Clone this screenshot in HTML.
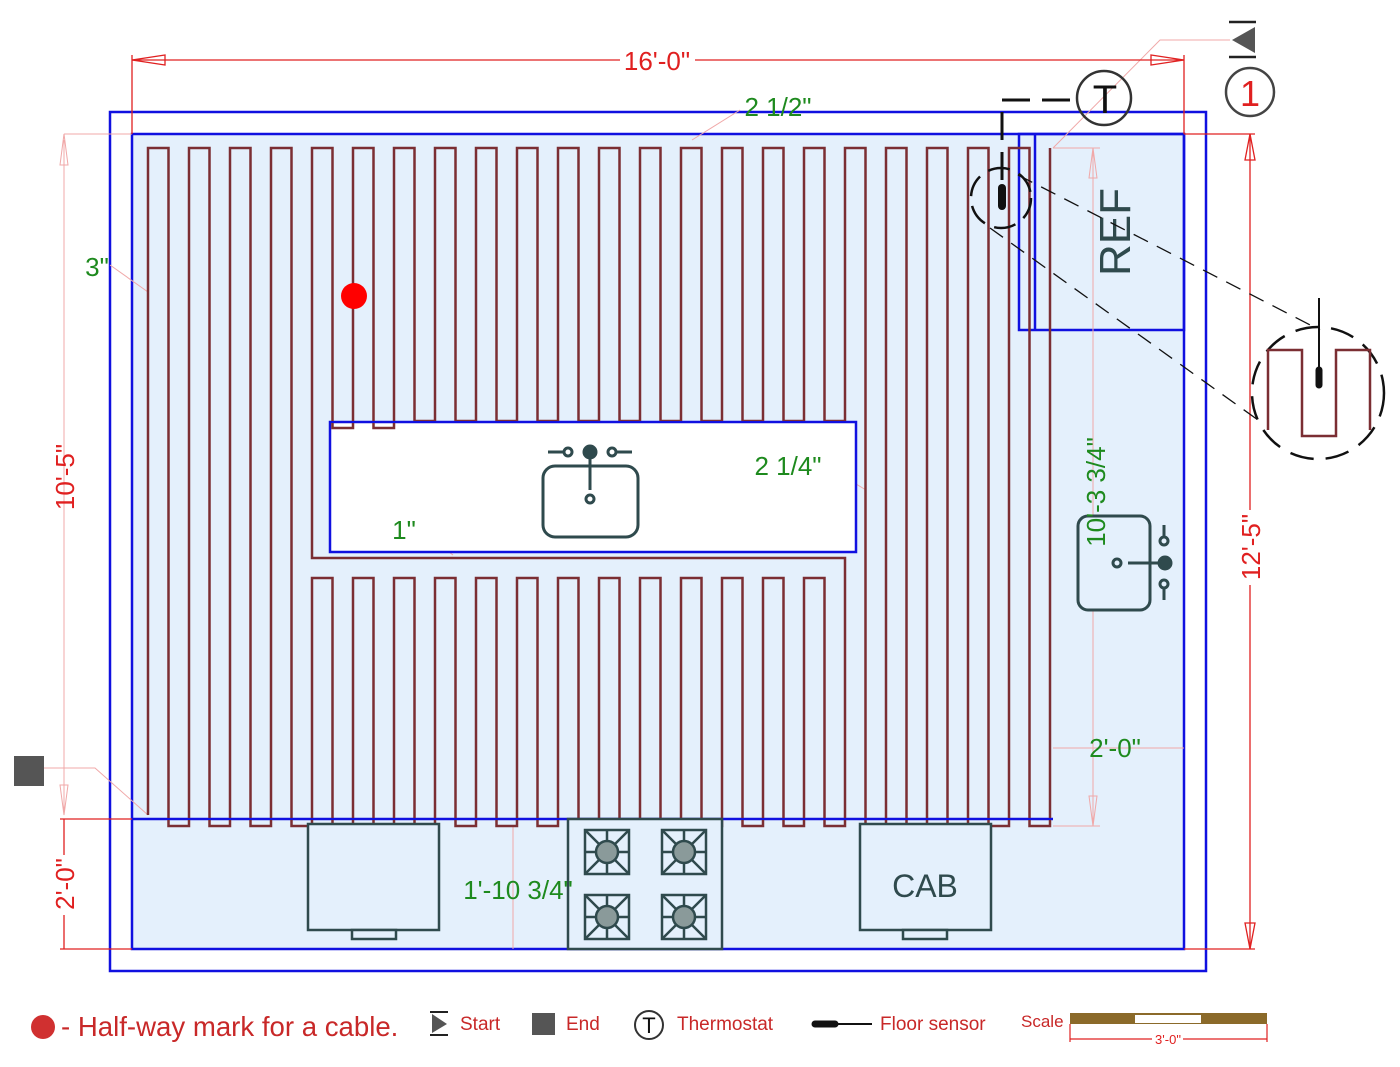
<!DOCTYPE html>
<html><head><meta charset="utf-8"><style>
html,body{margin:0;padding:0;background:#fff;}
svg{display:block;font-family:"Liberation Sans",sans-serif;}
</style></head><body>
<svg width="1400" height="1067" viewBox="0 0 1400 1067" xmlns="http://www.w3.org/2000/svg">
<!-- room -->
<rect x="110" y="112" width="1096" height="859" fill="#fff" stroke="#1010e0" stroke-width="2.5"/>
<rect x="132" y="134" width="1052" height="815" fill="#e4f0fc" stroke="#1010e0" stroke-width="2.5"/>
<!-- ref -->
<rect x="1019" y="134" width="165" height="196" fill="none" stroke="#1010e0" stroke-width="2.5"/>
<line x1="1035" y1="134" x2="1035" y2="330" stroke="#1010e0" stroke-width="2.5"/>
<text x="0" y="0" transform="translate(1130,232) rotate(-90)" text-anchor="middle" font-size="44" fill="#2f4a4d">REF</text>
<!-- counter line -->
<line x1="132" y1="819" x2="1053" y2="819" stroke="#1010e0" stroke-width="2.5"/>
<!-- pink guides -->
<g stroke="#f0a8a8" stroke-width="1" fill="none">
<line x1="64" y1="134" x2="132" y2="134"/>
<line x1="513" y1="826" x2="513" y2="949"/>
<line x1="1053" y1="748" x2="1184" y2="748"/>
<line x1="1093" y1="148" x2="1093" y2="826"/>
<line x1="1053" y1="148" x2="1100" y2="148"/>
<line x1="1053" y1="826" x2="1100" y2="826"/>
<polyline points="1053,148 1160,40 1230,40"/>
<line x1="692" y1="140" x2="740" y2="110"/>
<line x1="110" y1="265" x2="148" y2="292"/>
<line x1="420" y1="530" x2="453" y2="555"/>
<line x1="826" y1="466" x2="866" y2="490"/>
<polyline points="44,768 95,768 148,815"/>
<line x1="64" y1="140" x2="64" y2="815"/>
<polygon points="64,134 60,165 68,165"/>
<polygon points="64,815 60,785 68,785"/>
<polygon points="1093,148 1089,178 1097,178"/>
<polygon points="1093,826 1089,796 1097,796"/>
</g>
<!-- island -->
<rect x="330" y="422" width="526" height="130" fill="#fff" stroke="#1010e0" stroke-width="2.5"/>
<!-- cable -->
<path fill="none" stroke="#7b2e33" stroke-width="2.5" d="M148,815 V148 H168.5 V826 H189 V148 H209.5 V826 H230 V148 H250.5 V826 H271 V148 H291.5 V826 H312 V578 H332.5 V826 H353 V578 H373.5 V826 H394 V578 H414.5 V826 H435 V578 H455.5 V826 H476 V578 H496.5 V826 H517 V578 H537.5 V826 H558 V578 H578.5 V826 H599 V578 H619.5 V826 H640 V578 H660.5 V826 H681 V578 H701.5 V826 H722 V578 H742.5 V826 H763 V578 H783.5 V826 H804 V578 H824.5 V826 H845 V558 H312 V148 H332.5 V428 H353 V148 H373.5 V428 H394 V148 H414.5 V421 H435 V148 H455.5 V421 H476 V148 H496.5 V421 H517 V148 H537.5 V421 H558 V148 H578.5 V421 H599 V148 H619.5 V421 H640 V148 H660.5 V421 H681 V148 H701.5 V421 H722 V148 H742.5 V421 H763 V148 H783.5 V421 H804 V148 H824.5 V421 H845 V148 H865.5 V826 H886 V148 H906.5 V826 H927 V148 H947.5 V826 H968 V148 H988.5 V826 H1009 V148 H1029.5 V826 H1050 V148"/>
<line x1="330" y1="422" x2="856" y2="422" stroke="#1010e0" stroke-width="2"/>
<line x1="132" y1="819" x2="1053" y2="819" stroke="#1010e0" stroke-width="2"/>
<!-- island sink -->
<g stroke="#2f4a4d" stroke-width="3" fill="none">
<rect x="543" y="466" width="95" height="71" rx="12" fill="#fff"/>
<line x1="590" y1="452" x2="590" y2="490"/>
<circle cx="590" cy="452" r="6" fill="#2f4a4d"/>
<circle cx="590" cy="499" r="4"/>
<line x1="548" y1="452" x2="565" y2="452"/><circle cx="568" cy="452" r="4"/>
<line x1="632" y1="452" x2="615" y2="452"/><circle cx="612" cy="452" r="4"/>
</g>
<!-- wall sink -->
<g stroke="#2f4a4d" stroke-width="3" fill="none">
<rect x="1078" y="516" width="72" height="94" rx="10" fill="#e4f0fc"/>
<line x1="1128" y1="563" x2="1165" y2="563"/>
<circle cx="1165" cy="563" r="6" fill="#2f4a4d"/>
<circle cx="1117" cy="563" r="4"/>
<line x1="1164" y1="525" x2="1164" y2="538"/><circle cx="1164" cy="541" r="4"/>
<line x1="1164" y1="600" x2="1164" y2="587"/><circle cx="1164" cy="584" r="4"/>
</g>
<!-- cabinets -->
<g stroke="#2f4a4d" stroke-width="2.5" fill="#e4f0fc">
<rect x="308" y="824" width="131" height="106"/>
<rect x="352" y="930" width="44" height="9"/>
<rect x="860" y="824" width="131" height="106"/>
<rect x="903" y="930" width="44" height="9"/>
<rect x="568" y="819" width="154" height="130"/>
</g>
<text x="925" y="897" text-anchor="middle" font-size="32" fill="#2f4a4d">CAB</text>
<!-- burners -->
<g stroke="#2f4a4d" stroke-width="2.5">
<g transform="translate(607,852)"><rect x="-22" y="-22" width="44" height="44" fill="none"/><path d="M-22,-22L22,22M22,-22L-22,22M0,-22V22M-22,0H22"/><circle r="11" fill="#8a9a9a"/></g>
<g transform="translate(684,852)"><rect x="-22" y="-22" width="44" height="44" fill="none"/><path d="M-22,-22L22,22M22,-22L-22,22M0,-22V22M-22,0H22"/><circle r="11" fill="#8a9a9a"/></g>
<g transform="translate(607,917)"><rect x="-22" y="-22" width="44" height="44" fill="none"/><path d="M-22,-22L22,22M22,-22L-22,22M0,-22V22M-22,0H22"/><circle r="11" fill="#8a9a9a"/></g>
<g transform="translate(684,917)"><rect x="-22" y="-22" width="44" height="44" fill="none"/><path d="M-22,-22L22,22M22,-22L-22,22M0,-22V22M-22,0H22"/><circle r="11" fill="#8a9a9a"/></g>
</g>
<!-- red dims -->
<g stroke="#e02020" stroke-width="1.3" fill="none">
<line x1="132" y1="55" x2="132" y2="134"/>
<line x1="1184" y1="55" x2="1184" y2="134"/>
<line x1="132" y1="60" x2="620" y2="60"/><line x1="695" y1="60" x2="1184" y2="60"/>
<polygon points="132,60 165,55 165,65"/><polygon points="1184,60 1151,55 1151,65"/>
<line x1="60" y1="819" x2="132" y2="819"/><line x1="60" y1="949" x2="132" y2="949"/>
<line x1="64" y1="819" x2="64" y2="855"/><line x1="64" y1="915" x2="64" y2="949"/>
<line x1="1184" y1="134" x2="1255" y2="134"/><line x1="1184" y1="949" x2="1255" y2="949"/>
<line x1="1250" y1="134" x2="1250" y2="510"/><line x1="1250" y1="585" x2="1250" y2="949"/>
<polygon points="1250,134 1245,160 1255,160"/><polygon points="1250,949 1245,923 1255,923"/>
</g>
<g fill="#e02020" font-size="26">
<text x="657" y="70" text-anchor="middle">16'-0"</text>
<text transform="translate(74,477) rotate(-90)" text-anchor="middle">10'-5"</text>
<text transform="translate(74,884) rotate(-90)" text-anchor="middle">2'-0"</text>
<text transform="translate(1260,547) rotate(-90)" text-anchor="middle">12'-5"</text>
</g>
<!-- green labels -->
<g fill="#1e8a1e" font-size="26">
<text x="778" y="116" text-anchor="middle">2 1/2"</text>
<text x="97" y="276" text-anchor="middle">3"</text>
<text x="788" y="475" text-anchor="middle">2 1/4"</text>
<text x="404" y="539" text-anchor="middle">1"</text>
<text transform="translate(1105,492) rotate(-90)" text-anchor="middle">10'-3 3/4"</text>
<text x="1115" y="757" text-anchor="middle">2'-0"</text>
<text x="518" y="899" text-anchor="middle">1'-10 3/4"</text>
</g>
<!-- thermostat & sensor -->
<g stroke="#111" fill="none">
<path d="M1002,100 H1077" stroke-width="3" stroke-dasharray="28,12"/>
<path d="M1002,112 V180" stroke-width="3" stroke-dasharray="28,12"/>
<circle cx="1104" cy="98" r="27" stroke="#333" stroke-width="2.5" fill="none"/>
<circle cx="1001" cy="198" r="30" stroke-width="2.5" stroke-dasharray="22,10"/>
<line x1="1002" y1="188" x2="1002" y2="206" stroke-width="8" stroke-linecap="round"/>
<path d="M1018,175 L1320,330 M990,228 L1258,420" stroke-width="1.3" stroke-dasharray="16,10"/>
<circle cx="1318" cy="393" r="66" stroke-width="2.5" stroke-dasharray="24,12"/>
<path d="M1268,430 V350 H1302 V436 H1336 V350 H1370 V430" stroke="#7b2e33" stroke-width="2.5"/>
<line x1="1319" y1="298" x2="1319" y2="370" stroke-width="2"/>
<line x1="1319" y1="370" x2="1319" y2="385" stroke-width="7" stroke-linecap="round"/>
</g>
<text x="1105" y="113" text-anchor="middle" font-size="40" fill="#111">T</text>
<!-- start marker -->
<line x1="1229" y1="22" x2="1256" y2="22" stroke="#222" stroke-width="2.5"/>
<line x1="1229" y1="57" x2="1256" y2="57" stroke="#222" stroke-width="2.5"/>
<polygon points="1232,40 1255,27 1255,53" fill="#555"/>
<circle cx="1250" cy="92" r="24" fill="none" stroke="#444" stroke-width="2.5"/>
<text x="1250" y="106" text-anchor="middle" font-size="36" fill="#e02020">1</text>
<!-- end marker, half-way dot -->
<rect x="14" y="756" width="30" height="30" fill="#555"/>
<circle cx="354" cy="296" r="13" fill="#f00"/>
<!-- legend -->
<circle cx="43" cy="1027" r="12" fill="#d03030"/>
<text x="61" y="1036" font-size="27.6" fill="#c82828">- Half-way mark for a cable.</text>
<line x1="430" y1="1012" x2="448" y2="1012" stroke="#222" stroke-width="2"/>
<line x1="430" y1="1035" x2="448" y2="1035" stroke="#222" stroke-width="2"/>
<polygon points="432,1014 447,1024 432,1033" fill="#555"/>
<text x="460" y="1030" font-size="19" fill="#c82828">Start</text>
<rect x="532" y="1013" width="23" height="22" fill="#555"/>
<text x="566" y="1030" font-size="19" fill="#c82828">End</text>
<circle cx="649" cy="1025" r="14" fill="none" stroke="#333" stroke-width="2"/>
<text x="649" y="1033" text-anchor="middle" font-size="22" fill="#111">T</text>
<text x="677" y="1030" font-size="19" fill="#c82828">Thermostat</text>
<line x1="815" y1="1024" x2="835" y2="1024" stroke="#111" stroke-width="7" stroke-linecap="round"/>
<line x1="835" y1="1024" x2="872" y2="1024" stroke="#111" stroke-width="2"/>
<text x="880" y="1030" font-size="19" fill="#c82828">Floor sensor</text>
<text x="1021" y="1027" font-size="17" fill="#c82828">Scale</text>
<rect x="1070" y="1013" width="197" height="11" fill="#8b6a2a"/>
<rect x="1135" y="1015" width="66" height="8" fill="#fff"/>
<g stroke="#e02020" stroke-width="1.2" fill="none">
<line x1="1070" y1="1024" x2="1070" y2="1042"/><line x1="1267" y1="1024" x2="1267" y2="1042"/>
<line x1="1070" y1="1039" x2="1152" y2="1039"/><line x1="1183" y1="1039" x2="1267" y2="1039"/>
</g>
<text x="1168" y="1044" text-anchor="middle" font-size="13" fill="#e02020">3'-0"</text>
</svg>
</body></html>
